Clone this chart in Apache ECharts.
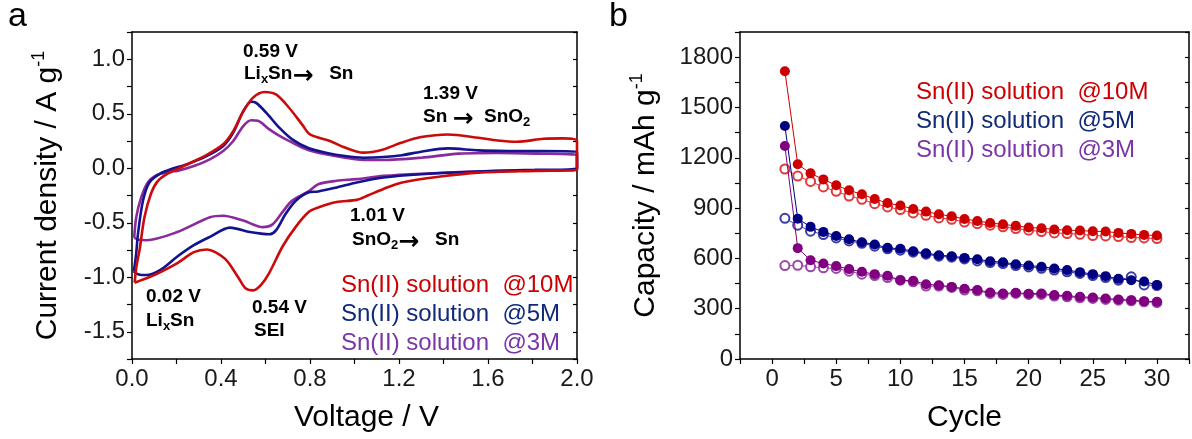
<!DOCTYPE html>
<html>
<head>
<meta charset="utf-8">
<script src="https://cdn.jsdelivr.net/npm/echarts@6/dist/echarts.min.js"></script>
<style>
html, body { margin: 0; padding: 0; background: #fff; }
#viz { width: 1192px; height: 439px; }
</style>
</head>
<body>
<div id="viz"></div>
<script>
// ---- panel a : cyclic voltammetry loops, [voltage, current density] ----
var cv10M = [
  [0.012,-1.05],[0.02,-0.9],[0.034,-0.75],[0.056,-0.45],[0.086,-0.23],[0.115,-0.12],[0.16,-0.05],
  [0.25,0.037],[0.34,0.128],[0.41,0.22],[0.455,0.34],[0.50,0.52],[0.543,0.646],[0.595,0.70],
  [0.647,0.677],[0.706,0.555],[0.765,0.40],[0.80,0.31],[0.89,0.25],[0.957,0.19],[1.04,0.143],
  [1.13,0.173],[1.21,0.234],[1.30,0.286],[1.42,0.31],[1.557,0.28],[1.643,0.255],[1.73,0.243],
  [1.85,0.27],[1.935,0.274],[2.0,0.25],
  [2.0,-0.015],[1.81,-0.024],[1.557,-0.04],[1.386,-0.076],[1.214,-0.13],[1.13,-0.19],[1.06,-0.25],
  [1.01,-0.29],[0.92,-0.31],[0.837,-0.36],[0.795,-0.40],[0.735,-0.54],[0.676,-0.72],[0.617,-0.96],
  [0.58,-1.07],[0.545,-1.12],[0.51,-1.10],[0.477,-1.0],[0.425,-0.845],[0.374,-0.77],[0.337,-0.745],
  [0.278,-0.77],[0.204,-0.87],[0.10,-0.98],[0.05,-1.02],[0.012,-1.05]
];
var cv5M = [
  [0.008,-0.95],[0.018,-0.8],[0.027,-0.6],[0.049,-0.30],[0.078,-0.13],[0.13,-0.045],[0.174,-0.01],
  [0.248,0.037],[0.337,0.113],[0.41,0.204],[0.455,0.326],[0.50,0.524],[0.536,0.61],[0.558,0.60],
  [0.603,0.51],[0.662,0.372],[0.72,0.265],[0.795,0.183],[0.871,0.143],[0.957,0.112],[1.04,0.097],
  [1.13,0.103],[1.214,0.12],[1.30,0.152],[1.42,0.182],[1.557,0.164],[1.73,0.158],[2.0,0.152],
  [2.0,-0.003],[1.81,-0.015],[1.557,-0.03],[1.30,-0.055],[1.13,-0.085],[1.01,-0.13],[0.92,-0.176],
  [0.837,-0.213],[0.795,-0.22],[0.735,-0.30],[0.69,-0.42],[0.647,-0.57],[0.617,-0.606],[0.58,-0.60],
  [0.53,-0.585],[0.44,-0.545],[0.35,-0.63],[0.278,-0.706],[0.204,-0.81],[0.13,-0.93],[0.064,-0.98],
  [0.03,-0.975],[0.008,-0.95]
];
var cv3M = [
  [0.01,-0.636],[0.019,-0.45],[0.041,-0.27],[0.071,-0.13],[0.115,-0.06],[0.174,-0.03],[0.204,-0.024],
  [0.278,0.02],[0.35,0.082],[0.41,0.158],[0.455,0.25],[0.50,0.387],[0.536,0.44],[0.566,0.435],
  [0.617,0.357],[0.677,0.28],[0.735,0.22],[0.795,0.165],[0.871,0.128],[0.957,0.097],[1.04,0.076],
  [1.13,0.076],[1.30,0.097],[1.47,0.134],[1.643,0.14],[1.815,0.134],[2.0,0.12],
  [2.0,-0.01],[1.643,-0.024],[1.30,-0.05],[1.13,-0.07],[1.01,-0.10],[0.92,-0.115],[0.837,-0.146],
  [0.795,-0.21],[0.72,-0.297],[0.677,-0.40],[0.632,-0.515],[0.588,-0.54],[0.5,-0.48],[0.41,-0.436],
  [0.35,-0.45],[0.204,-0.585],[0.064,-0.66],[0.03,-0.656],[0.01,-0.636]
];

// ---- panel b : capacity vs cycle ----
var cycles = [1,2,3,4,5,6,7,8,9,10,11,12,13,14,15,16,17,18,19,20,21,22,23,24,25,26,27,28,29,30];
var fill10M = [1716,1161,1107,1071,1036,1006,982,954,930,915,895,879,863,851,835,823,811,803,794,784,780,772,768,766,762,760,752,746,740,736];
var open10M = [1133,1091,1059,1026,1000,972,952,926,907,891,871,857,841,833,817,807,798,788,778,768,760,752,748,744,736,734,730,724,722,718];
var fill5M = [1389,837,788,758,734,714,696,683,663,657,643,631,619,613,603,595,583,577,565,558,550,540,530,518,506,494,478,470,462,442];
var open5M = [839,798,762,742,722,704,690,673,657,649,637,625,613,607,597,585,575,569,557,549,541,530,520,510,498,486,470,490,442,438];
var fill3M = [1270,661,589,569,554,536,520,506,496,470,466,446,440,430,419,411,397,391,395,389,391,381,377,371,367,361,355,351,345,341];
var open3M = [557,559,550,544,540,524,506,498,486,470,460,435,435,427,411,407,391,385,391,385,385,375,371,365,361,355,351,347,341,337];

var names = ['Sn(II) solution  @10M', 'Sn(II) solution  @5M', 'Sn(II) solution  @3M'];
var lineColors = ['#cc0a0a', '#13138f', '#8a2a9c'];
var markColors = ['#cc0000', '#000080', '#800080'];
var openColors = ['#e03a3a', '#3a3aa8', '#9a48a8'];
var textColors = ['#cc0000', '#102a78', '#7a35a8'];

var FONT = 'Liberation Sans, Arial, sans-serif';

function pairs(xs, ys) {
  var out = [];
  for (var i = 0; i < xs.length; i++) out.push([xs[i], ys[i]]);
  return out;
}

function baseAxis(extra) {
  var a = {
    type: 'value',
    axisLine: { show: true, onZero: false, lineStyle: { color: '#000', width: 1.5 } },
    axisTick: { show: true, inside: false, length: 5, lineStyle: { color: '#000', width: 1.2 } },
    axisLabel: { color: '#1a1a1a', fontSize: 24, fontFamily: FONT, margin: 7 },
    splitLine: { show: false },
    nameTextStyle: { color: '#000', fontSize: 30, fontFamily: FONT }
  };
  for (var k in extra) a[k] = extra[k];
  return a;
}

function mirrorAxis(extra) {
  var a = {
    type: 'value',
    axisLine: { show: true, onZero: false, lineStyle: { color: '#000', width: 1.5 } },
    axisTick: { show: true, inside: true, length: 4, lineStyle: { color: '#000', width: 1.2 } },
    axisLabel: { show: false },
    splitLine: { show: false }
  };
  for (var k in extra) a[k] = extra[k];
  return a;
}

var supRich = {
  n: { fontSize: 30, fontFamily: FONT, color: '#000', lineHeight: 36 },
  sup: { fontSize: 18, fontFamily: FONT, color: '#000', verticalAlign: 'top', lineHeight: 20 }
};

var series = [];
[cv10M, cv5M, cv3M].forEach(function (d, i) {
  series.push({
    name: names[i], type: 'line', xAxisIndex: 0, yAxisIndex: 0,
    data: d, smooth: 0.3, showSymbol: false, symbol: 'none',
    lineStyle: { color: lineColors[i], width: 2.6 }, z: 3 - i
  });
});
[[open10M, fill10M], [open5M, fill5M], [open3M, fill3M]].forEach(function (p, i) {
  series.push({
    name: names[i] + ' open', type: 'line', xAxisIndex: 2, yAxisIndex: 2,
    data: pairs(cycles, p[0]), symbol: 'emptyCircle', symbolSize: 9,
    itemStyle: { color: openColors[i], borderColor: openColors[i], borderWidth: 1 },
    lineStyle: { color: openColors[i], width: 1 }, z: 2
  });
  series.push({
    name: names[i], type: 'line', xAxisIndex: 2, yAxisIndex: 2,
    data: pairs(cycles, p[1]), symbol: 'circle', symbolSize: 10,
    itemStyle: { color: markColors[i] },
    lineStyle: { color: markColors[i], width: 1 }, z: 3
  });
});

// bold annotation text with subscripts and heavy arrows
var boldRich = {
  b: { fontSize: 19, fontWeight: 'bold', fontFamily: FONT, color: '#000', lineHeight: 19, verticalAlign: 'top' },
  s: { fontSize: 13, fontWeight: 'bold', fontFamily: FONT, color: '#000', lineHeight: 13, padding: [9, 0, 0, 0], verticalAlign: 'top' },
  ar: { fontSize: 25, fontWeight: 'bold', fontFamily: 'DejaVu Sans', color: '#000', lineHeight: 19, verticalAlign: 'top' }
};
function note(x, y, txt) {
  return { type: 'text', left: x, top: y, z: 10,
    style: { text: txt, rich: boldRich, fill: '#000', font: 'bold 19px ' + FONT } };
}
function plain(x, y, txt, color, size) {
  return { type: 'text', left: x, top: y, z: 10,
    style: { text: txt, fill: color, font: size + 'px ' + FONT } };
}

var graphics = [
  plain(8, 0, 'a', '#000', 34),
  plain(609, 0, 'b', '#000', 34),
  note(243, 42, '{b|0.59 V}'),
  note(244, 64, '{b|Li}{s|x}{b|Sn}{ar|→}{b|   Sn}'),
  note(423, 84, '{b|1.39 V}'),
  note(423, 107, '{b|Sn }{ar|→}{b|  SnO}{s|2}'),
  note(350, 206, '{b|1.01 V}'),
  note(352, 230, '{b|SnO}{s|2}{ar|→}{b|   Sn}'),
  note(146, 287, '{b|0.02 V}'),
  note(146, 311, '{b|Li}{s|x}{b|Sn}'),
  note(252, 298, '{b|0.54 V}'),
  note(254, 321, '{b|SEI}')
];
names.forEach(function (n, i) {
  graphics.push(plain(341, 273 + i * 29, n, textColors[i], 24));
  graphics.push(plain(916, 80 + i * 29, n, textColors[i], 24));
});

var option = {
  animation: false,
  backgroundColor: '#fff',
  grid: [
    { left: 132, top: 32, width: 445, height: 327 },
    { left: 740, top: 32, width: 451, height: 327 }
  ],
  xAxis: [
    baseAxis({ gridIndex: 0, min: 0, max: 2, interval: 0.2,
      axisLabel: { color: '#1a1a1a', fontSize: 24, fontFamily: FONT, margin: 8,
        formatter: function (v) { return Math.round(v * 10) % 4 === 0 ? v.toFixed(1) : ''; } },
      name: 'Voltage / V', nameLocation: 'middle', nameGap: 44,
      nameTextStyle: { color: '#000', fontSize: 30, fontFamily: FONT, padding: [0, 0, 0, 24] } }),
    mirrorAxis({ gridIndex: 0, position: 'top', min: 0, max: 2, interval: 0.2, axisTick: { show: false } }),
    baseAxis({ gridIndex: 1, min: -2.5, max: 32.5, interval: 2.5,
      axisLabel: { color: '#1a1a1a', fontSize: 24, fontFamily: FONT, margin: 8,
        formatter: function (v) { return (v >= 0 && v <= 30 && Math.abs(v % 5) < 1e-6) ? String(v) : ''; } },
      name: 'Cycle', nameLocation: 'middle', nameGap: 44 }),
    mirrorAxis({ gridIndex: 1, position: 'top', min: -2.5, max: 32.5, interval: 2.5, axisTick: { show: false } })
  ],
  yAxis: [
    baseAxis({ gridIndex: 0, min: -1.75, max: 1.25, interval: 0.25,
      axisLabel: { color: '#1a1a1a', fontSize: 24, fontFamily: FONT, margin: 7,
        formatter: function (v) { var d = v * 2; return Math.abs(d - Math.round(d)) < 1e-6 ? v.toFixed(1) : ''; } },
      name: '{n|Current density / A g}{sup|-1}', nameLocation: 'middle', nameGap: 66,
      nameTextStyle: { rich: supRich } }),
    mirrorAxis({ gridIndex: 0, position: 'right', min: -1.75, max: 1.25, interval: 0.25 }),
    baseAxis({ gridIndex: 1, min: 0, max: 1950, interval: 150,
      axisLabel: { color: '#1a1a1a', fontSize: 24, fontFamily: FONT, margin: 7,
        formatter: function (v) { return v % 300 === 0 ? String(v) : ''; } },
      name: '{n|Capacity / mAh g}{sup|-1}', nameLocation: 'middle', nameGap: 76,
      nameTextStyle: { rich: supRich } }),
    mirrorAxis({ gridIndex: 1, position: 'right', min: 0, max: 1950, interval: 150 })
  ],
  graphic: graphics,
  series: series
};

var myChart = echarts.init(document.getElementById('viz'), null, { renderer: 'canvas' });
myChart.setOption(option);
</script>
</body>
</html>
